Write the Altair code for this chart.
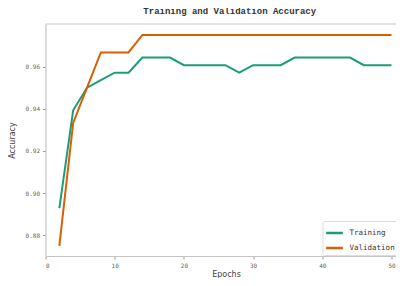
import altair as alt
import pandas as pd

epochs = list(range(2, 51, 2))
train_acc = [0.8929, 0.9393, 0.9500, 0.9536, 0.9571, 0.9571,
             0.9643, 0.9643, 0.9643,
             0.9607, 0.9607, 0.9607, 0.9607,
             0.9571,
             0.9607, 0.9607, 0.9607,
             0.9643, 0.9643, 0.9643, 0.9643, 0.9643,
             0.9607, 0.9607, 0.9607]
val_acc = [0.875, 0.9333, 0.9500, 0.9667, 0.9667, 0.9667] + [0.975] * 19
series = ["Training", "Validation"]
colors = ["#1b9e77", "#d95f02"]

df = pd.DataFrame({
    "Epochs": epochs * 2,
    "Accuracy": train_acc + val_acc,
    "Series": [series[0]] * len(epochs) + [series[1]] * len(epochs),
})

W, H = 350.5, 232

lines = alt.Chart(df).mark_line(strokeWidth=2, clip=True).encode(
    x=alt.X("Epochs:Q",
            scale=alt.Scale(domain=[0, 50.65], nice=False, zero=False),
            axis=alt.Axis(values=[0, 10, 20, 30, 40, 50], format="d", title="Epochs",
                          titleX=180.5, titleY=18.5, titleBaseline="middle", titleAlign="center")),
    y=alt.Y("Accuracy:Q",
            scale=alt.Scale(domain=[0.8702, 0.9802], nice=False, zero=False),
            axis=alt.Axis(values=[0.88, 0.90, 0.92, 0.94, 0.96], format=".2f", title="Accuracy",
                          titleX=-33.5, titleY=116, titleAngle=-90, titleBaseline="middle", titleAlign="center")),
    color=alt.Color("Series:N",
                    scale=alt.Scale(domain=series, range=colors),
                    legend=alt.Legend(title=None, orient="none", legendX=277, legendY=197,
                                      symbolType="stroke", symbolSize=280, symbolStrokeWidth=2.5,
                                      labelFont="DejaVu Sans Mono", labelFontSize=7.5, labelColor="#333",
                                      labelOffset=5, rowPadding=-8.3, padding=2,
                                      strokeColor="#dddddd", fillColor="white", cornerRadius=2)),
)

border = alt.Chart(pd.DataFrame({"a": [0]})).mark_rule(color="#c8c8c8", strokeWidth=1.2).encode(
    x=alt.value(0), x2=alt.value(W), y=alt.value(0)
)

chart = alt.layer(lines, border).properties(
    width=W, height=H,
    padding={"left": 37.5, "top": 16, "right": 0, "bottom": 22},
    autosize=alt.AutoSizeParams(type="none"),
    title=alt.TitleParams("Training and Validation Accuracy", font="Liberation Mono", fontSize=9,
                          fontWeight="bold", color="#333", offset=7, dx=9, anchor="middle"),
).configure_view(stroke=None).configure_axis(
    grid=False, domainColor="#c4c4c4", domainWidth=1.2, tickColor="#999", tickSize=3,
    labelFont="DejaVu Sans Mono", labelFontSize=6, labelColor="#666", labelPadding=3,
    titleFont="DejaVu Sans", titleFontSize=8, titleColor="#444", titleFontWeight="normal",
)

chart.save("out.html", embed_options={"renderer": "svg", "actions": False})
